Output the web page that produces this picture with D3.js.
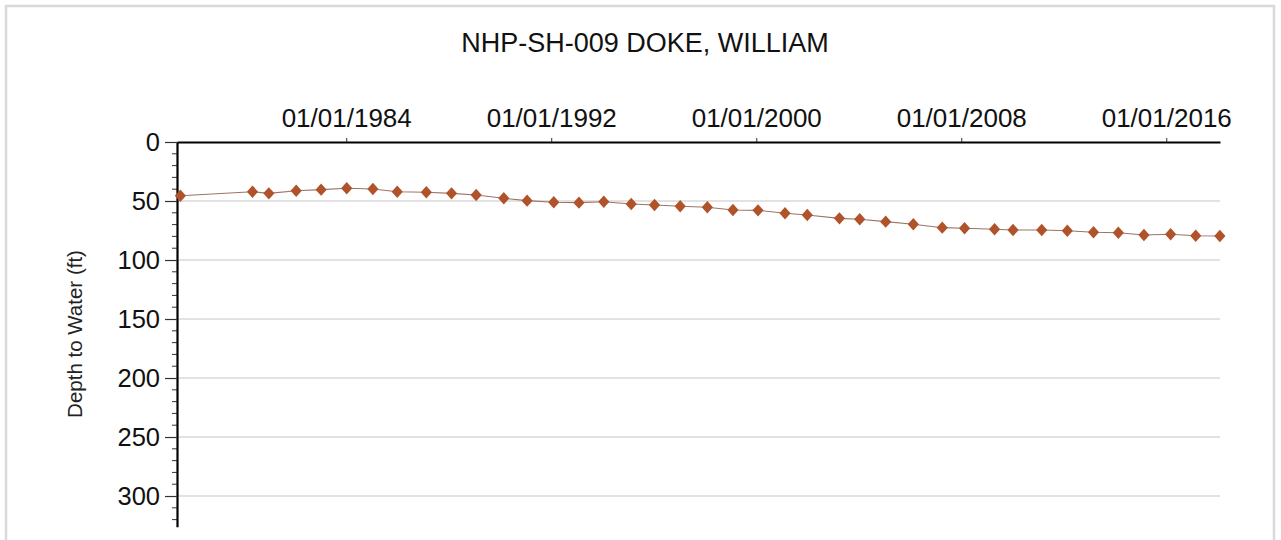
<!DOCTYPE html>
<html>
<head>
<meta charset="utf-8">
<script src="https://cdn.jsdelivr.net/npm/d3@7"></script>
<style>
  html, body { margin: 0; padding: 0; background: #fff; }
  svg { display: block; font-family: "Liberation Sans", Arial, sans-serif; }
</style>
</head>
<body>
<svg id="chart" width="1281" height="540"></svg>
<script>
// Well hydrograph: depth to water over time
const chartTitle = "NHP-SH-009 DOKE, WILLIAM";
const yAxisTitle = "Depth to Water (ft)";

const measureDates = [
  "1977-07-12", "1980-05-05", "1980-12-24", "1982-01-18", "1983-01-08",
  "1984-01-08", "1985-01-15", "1985-12-28", "1987-02-16", "1988-02-10",
  "1989-01-26", "1990-02-24", "1991-01-22", "1992-02-06", "1993-01-30",
  "1994-01-19", "1995-02-14", "1996-01-12", "1997-01-12", "1998-02-03",
  "1999-02-03", "2000-01-26", "2001-02-14", "2001-12-28", "2003-04-01",
  "2004-01-15", "2005-01-19", "2006-02-17", "2007-04-05", "2008-02-17",
  "2009-04-20", "2010-01-08", "2011-02-21", "2012-02-21", "2013-02-28",
  "2014-02-17", "2015-02-17", "2016-03-03", "2017-02-24", "2018-02-03"
];
const depthToWater = [
  45.5, 42.1, 43.5, 41.3, 40.4,
  39.2, 39.8, 42.1, 42.6, 43.5,
  44.9, 47.7, 49.7, 51.1, 51.4,
  50.6, 52.5, 53.4, 54.5, 55.3,
  57.6, 57.9, 60.4, 61.9, 64.7,
  65.4, 67.5, 69.7, 72.6, 73.1,
  74.0, 74.6, 74.6, 75.2, 76.5,
  76.9, 78.8, 78.2, 79.4, 79.7
];
const dateTicks = ["1984-01-01", "1992-01-01", "2000-01-01", "2008-01-01", "2016-01-01"];
const depthTicks = [0, 50, 100, 150, 200, 250, 300];
const dateRange = ["1977-05-25", "2018-02-05"];
const depthRange = [0, 326];

const parse = d3.utcParse("%Y-%m-%d");
const data = measureDates.map((d, i) => ({ date: parse(d), depth: depthToWater[i] }));

const svg = d3.select("#chart");
const plot = { left: 177, right: 1220, top: 142, bottom: 526.7 };

// outer frame
svg.append("rect")
  .attr("x", 6).attr("y", 6).attr("width", 1268).attr("height", 545)
  .attr("fill", "none").attr("stroke", "#d9d9d9").attr("stroke-width", 2.5);

const x = d3.scaleUtc().domain(dateRange.map(parse)).range([plot.left, plot.right]);
const y = d3.scaleLinear().domain(depthRange).range([plot.top, plot.bottom]);

// horizontal gridlines
svg.append("g").selectAll("line")
  .data(depthTicks.filter(d => d > 0))
  .join("line")
  .attr("x1", plot.left).attr("x2", plot.right)
  .attr("y1", d => y(d)).attr("y2", d => y(d))
  .attr("stroke", "#d9d9d9").attr("stroke-width", 1.5);

// title
svg.append("text")
  .attr("x", 645).attr("y", 52)
  .attr("text-anchor", "middle")
  .attr("font-size", 27).attr("fill", "#111")
  .text(chartTitle);

// top date axis
const xAxis = svg.append("g")
  .attr("transform", `translate(0,${plot.top})`)
  .call(d3.axisTop(x)
    .tickValues(dateTicks.map(parse))
    .tickFormat(d3.utcFormat("%m/%d/%Y"))
    .tickSizeInner(4).tickSizeOuter(0).tickPadding(11));
xAxis.select(".domain").attr("stroke", "#000").attr("stroke-width", 2.2);
xAxis.selectAll(".tick line").attr("stroke", "#333").attr("stroke-width", 1);
xAxis.selectAll("text").attr("font-size", 26).attr("fill", "#111")
  .style("font-family", "'Liberation Sans', Arial, sans-serif");

// left depth axis: minor ticks every 10 ft
const minorTicks = d3.range(0, depthRange[1], 10).filter(d => d % 50 !== 0);
svg.append("g").selectAll("line")
  .data(minorTicks)
  .join("line")
  .attr("x1", plot.left - 5).attr("x2", plot.left)
  .attr("y1", d => y(d)).attr("y2", d => y(d))
  .attr("stroke", "#333").attr("stroke-width", 1);

const yAxis = svg.append("g")
  .attr("transform", `translate(${plot.left},0)`)
  .call(d3.axisLeft(y)
    .tickValues(depthTicks)
    .tickSizeInner(12).tickSizeOuter(0).tickPadding(5));
yAxis.select(".domain").attr("stroke", "#000").attr("stroke-width", 2.2);
yAxis.selectAll(".tick line").attr("stroke", "#333").attr("stroke-width", 1.2);
yAxis.selectAll("text").attr("font-size", 25.5).attr("fill", "#111")
  .style("font-family", "'Liberation Sans', Arial, sans-serif");

// y axis title
svg.append("text")
  .attr("transform", `translate(82,334) rotate(-90)`)
  .attr("text-anchor", "middle")
  .attr("font-size", 20.5).attr("fill", "#222")
  .text(yAxisTitle);

// measurement line
svg.append("path")
  .datum(data)
  .attr("fill", "none")
  .attr("stroke", "#9a7466").attr("stroke-width", 1.1)
  .attr("d", d3.line().x(d => x(d.date)).y(d => y(d.depth)));

// diamond markers
const diamond = "M0,-6.2L5.6,0L0,6.2L-5.6,0Z";
svg.append("g").selectAll("path")
  .data(data)
  .join("path")
  .attr("transform", d => `translate(${x(d.date)},${y(d.depth)})`)
  .attr("d", diamond)
  .attr("fill", "#b0522a");
</script>
</body>
</html>
